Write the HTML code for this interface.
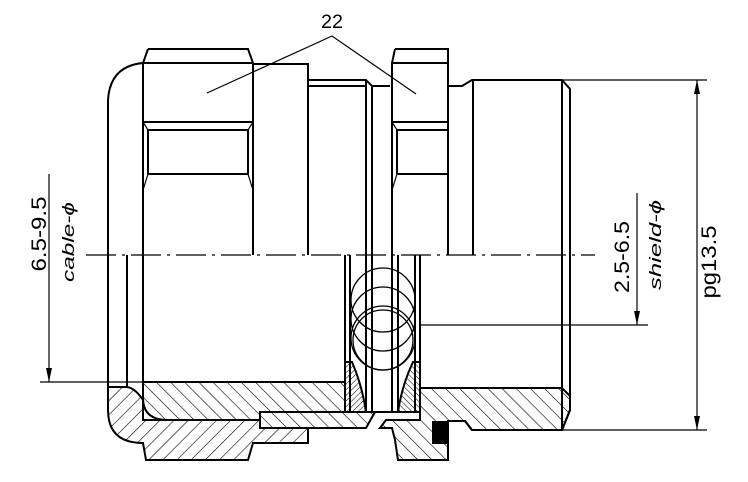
<!DOCTYPE html>
<html><head><meta charset="utf-8"><style>html,body{margin:0;padding:0;background:#fff}svg{display:block}</style></head>
<body>
<svg width="748" height="482" viewBox="0 0 748 482" xmlns="http://www.w3.org/2000/svg">
<defs>
<pattern id="hb" patternUnits="userSpaceOnUse" width="10" height="10" patternTransform="rotate(45)"><rect width="10" height="10" fill="#fff"/><line x1="0" y1="0" x2="0" y2="10" stroke="#000" stroke-width="1.2"/></pattern>
<pattern id="hf" patternUnits="userSpaceOnUse" width="10" height="10" patternTransform="rotate(-45)"><rect width="10" height="10" fill="#fff"/><line x1="0" y1="0" x2="0" y2="10" stroke="#000" stroke-width="1.2"/></pattern>
<pattern id="hs" patternUnits="userSpaceOnUse" width="4" height="4" patternTransform="rotate(45)"><rect width="4" height="4" fill="#fff"/><line x1="0" y1="0" x2="0" y2="4" stroke="#000" stroke-width="1"/></pattern>
<pattern id="hs2" patternUnits="userSpaceOnUse" width="4" height="4" patternTransform="rotate(-45)"><rect width="4" height="4" fill="#fff"/><line x1="0" y1="0" x2="0" y2="4" stroke="#000" stroke-width="1"/></pattern>
<clipPath id="cc"><rect x="350" y="258" width="65" height="124"/></clipPath>
</defs>
<g fill="none" stroke="#000" stroke-width="2">
<path d="M108,387 L108,410 Q108,443 143,443 L146,460 L248,460 L253,443 L308,443 L308,428 L260,428 L260,420 L143,420 L143,400 Q135,388 127,387 Z" fill="url(#hb)"/>
<path d="M143,382 L345,382 L345,412 L260,412 L260,420 L168,420 Q143,420 143,398 Z" fill="url(#hf)"/>
<path d="M260,412 L375,412 L366,428 L260,428 Z" fill="url(#hf)"/>
<path d="M420,388 L562,388 L570,396 L570,410 L562,430 L472,430 L465,421 L448,421 L448,460 L398,460 L395,440 L392,428 L380,428 L386,420 L420,420 Z" fill="url(#hf)"/>
<path d="M345,362 L352,362 Q362,385 366,412 L345,412 Z" fill="url(#hs)"/>
<path d="M420,362 L413,362 Q402,385 398,412 L420,412 Z" fill="url(#hs2)"/>
<rect x="433" y="422" width="14" height="21" fill="#000"/>
<path d="M108,387 L108,100 Q110,66 143,63"/>
<path d="M148,49 L248,49 L253,63 L253,255 M148,49 L143,63 L143,255 M143,63 L253,63 M143,122 L253,122 M148,130 L248,130 M148,174 L248,174 M148,130 L148,174 M248,130 L248,174"/>
<path d="M143,122 L148,130 L148,174 L143,190 M253,122 L248,130 L248,174 L253,190" stroke-width="1.2"/>
<path d="M253,64 L308,64 L308,255 M308,80 L366,80 L372,86 L390,86 M308,86 L366,86 M366,80 L366,255 M372,86 L372,255"/>
<path d="M395,49 L448,49 L448,255 M395,49 L392,63 L392,255 M392,63 L448,63 M392,122 L448,122 M397,130 L448,130 M397,174 L448,174 M397,130 L397,174"/>
<path d="M392,122 L397,130 L397,174 L392,190" stroke-width="1.2"/>
<path d="M448,86 L462,86 L472,80 L562,80 L570,89 L570,410 L562,430 L472,430 L465,421 L448,421 M473,80 L473,255 M562,80 L562,430"/>
<path d="M127,255 L127,387 M143,255 L143,400 M143,382 L345,382 M345,255 L345,412 M350,255 L350,412 M366,255 L366,412 M372,255 L372,412 M392,255 L392,412 M398,255 L398,412 M415,255 L415,412 M420,255 L420,388 M345,412 L420,412 M420,388 L562,388"/>
<g clip-path="url(#cc)" stroke-width="1.3">
<circle cx="383" cy="300" r="32"/><circle cx="383" cy="319" r="32"/><circle cx="383" cy="338" r="32"/><circle cx="383" cy="340" r="30"/>
</g>
</g>
<g fill="none" stroke="#000" stroke-width="1.2">
<line x1="86" y1="255" x2="595" y2="255" stroke-dasharray="30,6,3,6"/>
<path d="M207,93 L332,36 L416,94"/>
<line x1="49" y1="174" x2="49" y2="382"/><line x1="40" y1="382" x2="150" y2="382"/>
<line x1="637" y1="193" x2="637" y2="325"/><line x1="420" y1="325" x2="648" y2="325"/>
<line x1="697" y1="80" x2="697" y2="430"/><line x1="562" y1="80" x2="707" y2="80"/><line x1="562" y1="430" x2="707" y2="430"/>
</g>
<g fill="#000">
<path d="M49,382 L46,368 L52,368 Z"/><path d="M637,325 L634,311 L640,311 Z"/>
<path d="M697,80 L694,94 L700,94 Z"/><path d="M697,430 L694,416 L700,416 Z"/>
</g>
<g font-family="Liberation Sans, sans-serif" fill="#000">
<text x="332" y="28" font-size="19" text-anchor="middle" textLength="22" lengthAdjust="spacingAndGlyphs">22</text>
<text transform="translate(46,234) rotate(-90)" font-size="21" text-anchor="middle" textLength="75" lengthAdjust="spacingAndGlyphs">6.5-9.5</text>
<text transform="translate(74,242) rotate(-90)" font-size="17" font-style="italic" text-anchor="middle" textLength="80" lengthAdjust="spacingAndGlyphs">cable-ϕ</text>
<text transform="translate(629,257) rotate(-90)" font-size="21" text-anchor="middle" textLength="72" lengthAdjust="spacingAndGlyphs">2.5-6.5</text>
<text transform="translate(661,245) rotate(-90)" font-size="17" font-style="italic" text-anchor="middle" textLength="90" lengthAdjust="spacingAndGlyphs">shield-ϕ</text>
<text transform="translate(716,262) rotate(-90)" font-size="21" text-anchor="middle" textLength="73" lengthAdjust="spacingAndGlyphs">pg13.5</text>
</g>
</svg>
</body></html>
